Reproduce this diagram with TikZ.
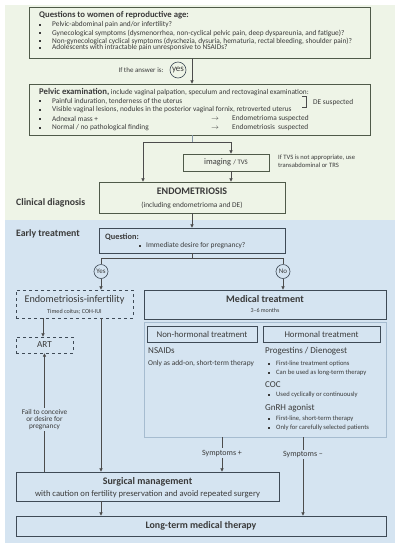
\documentclass[tikz,border=0pt]{standalone}
\usepackage{fontspec}
\setmainfont{Carlito}
\usetikzlibrary{arrows.meta}

\definecolor{bggreen}{HTML}{EEF4E7}
\definecolor{bgblue}{HTML}{D5E4F1}
\definecolor{lineg}{HTML}{4F5A49}
\definecolor{lineb}{HTML}{3E4A56}
\definecolor{txtc}{HTML}{3A3A3A}
\definecolor{pale}{HTML}{A6BCD0}
\newcommand{\fsz}[1]{\fontsize{#1}{#1}\selectfont}

\tikzset{
  gbox/.style 2 args={draw=lineg, line width=0.8pt, inner sep=0pt, minimum width=#1, minimum height=#2},
  bbox/.style 2 args={draw=lineb, line width=0.8pt, inner sep=0pt, minimum width=#1, minimum height=#2},
  dbox/.style 2 args={bbox={#1}{#2}, dashed},
  txt/.style={inner sep=0pt, anchor=west, text=txtc, font=\fsz{7.35}},
  ctr/.style={inner sep=0pt, text=txtc, align=center},
  ans/.style={draw=lineb, circle, line width=0.6pt, inner sep=0.5pt, minimum size=14, text=txtc},
  conn/.style={draw=black!70, line width=0.6pt},
  arr/.style={conn, -{Triangle[length=3.2pt,width=3.2pt]}},
  lbl/.style={ctr, fill=bgblue, inner ysep=1.5pt, font=\fsz{7.3}},
}

\begin{document}
\begin{tikzpicture}[x=1pt,y=-1pt]
  \useasboundingbox (0,0) rectangle (402,550);
  \fill[bggreen] (5,5) rectangle (395,220);
  \fill[bgblue] (5,220) rectangle (395,543);

  % screening questions
  \node[gbox={341}{51}] (q) at (199.5,32.5) {};
  \node[txt, font=\bfseries\fsz{8.7}] (qt) at (39,15) {Questions to women of reproductive age:};
  \fill[txtc] (39,24) rectangle +(2,2); \node[txt] (q1) at (52,25) {Pelvic-abdominal pain and/or infertility?};
  \fill[txtc] (39,32) rectangle +(2,2); \node[txt] (q2) at (52,33) {Gynecological symptoms (dysmenorrhea, non-cyclical pelvic pain, deep dyspareunia, and fatigue)?};
  \fill[txtc] (39,40) rectangle +(2,2); \node[txt] (q3) at (52,41) {Non-gynecological cyclical symptoms (dyschezia, dysuria, hematuria, rectal bleeding, shoulder pain)?};
  \fill[txtc] (39,47) rectangle +(2,2); \node[txt] (q4) at (52,48) {Adolescents with intractable pain unresponsive to NSAIDs?};

  \node[ctr, font=\fsz{7}] (ifa) at (141,70) {If the answer is:};
  \node[ans, font=\fsz{9}, minimum size=16] (yes) at (178,70) {yes};

  % pelvic examination
  \node[gbox={341}{51}] (pe) at (199.5,109.5) {};
  \node[txt] (pet) at (39,92) {{\bfseries\fsz{8.7}Pelvic examination,} include vaginal palpation, speculum and rectovaginal examination:};
  \fill[txtc] (39,100) rectangle +(2,2); \node[txt] (p1) at (52,101) {Painful induration, tenderness of the uterus};
  \fill[txtc] (39,109) rectangle +(2,2); \node[txt] (p2) at (52,110) {Visible vaginal lesions, nodules in the posterior vaginal fornix, retroverted uterus};
  \fill[txtc] (39,118) rectangle +(2,2); \node[txt] (p3) at (52,119) {Adnexal mass +};
  \fill[txtc] (39,127) rectangle +(2,2); \node[txt] (p4) at (52,128) {Normal / no pathological finding};
  \node[txt] (a3) at (211,119) {$\rightarrow$}; \node[txt] (e3) at (232,119) {Endometrioma suspected};
  \node[txt] (a4) at (211,128) {$\rightarrow$}; \node[txt] (e4) at (232,128) {Endometriosis\ \ suspected};
  \draw[black!70, line width=0.5pt] (302,96) -- (306,96) -- (306,107) -- (302,107);
  \node[txt] (de) at (313,103) {DE suspected};

  % imaging
  \node[gbox={86}{17}] (img) at (226,162.5) {};
  \node[ctr] (imgt) at (img) {{\fsz{8.4}imaging} {\fsz{6.8}/ TVS}};
  \node[txt, font=\fsz{6.6}, align=left] (tvs) at (278,161) {If TVS is not appropriate, use\\[1.4pt]transabdominal or TRS};

  % diagnosis
  \node[gbox={186}{31}] (endo) at (192,197.5) {};
  \node[ctr, font=\bfseries\fsz{10}] (endot) at (192,191) {ENDOMETRIOSIS};
  \node[ctr, font=\fsz{7.4}] (endos) at (192,205) {(including endometrioma and DE)};
  \node[txt, font=\bfseries\fsz{9.8}] (cd) at (16,203) {Clinical diagnosis};

  % early treatment
  \node[txt, font=\bfseries\fsz{9.8}] (et) at (16,234) {Early treatment};
  \node[bbox={186}{25}] (qq) at (192,240.5) {};
  \node[txt, font=\bfseries\fsz{8.3}] (qqt) at (105,237) {Question:};
  \fill[txtc] (139,245) rectangle +(2,2); \node[txt, font=\fsz{7.4}] (qq1) at (146,246) {Immediate desire for pregnancy?};

  \node[ans, font=\fsz{7}] (y) at (101,271.5) {Yes};
  \node[ans, font=\fsz{7}] (n) at (283,271.5) {No};

  % infertility branch
  \node[dbox={117}{28}] (inf) at (74.5,304) {};
  \node[ctr, font=\fsz{10.2}] (inft) at (74.5,299.5) {Endometriosis-infertility};
  \node[ctr, font=\fsz{6.1}] (infs) at (74.5,311.5) {Timed coitus; COH-IUI};
  \node[dbox={57}{16}] (art) at (44.5,345) {};
  \node[ctr, font=\fsz{9.2}] (artt) at (art) {ART};

  % medical treatment
  \node[bbox={242}{29}] (med) at (265,304.5) {};
  \node[ctr, font=\bfseries\fsz{10}] (medt) at (265,299.5) {Medical treatment};
  \node[ctr, font=\fsz{6}] (meds) at (265,310.5) {3--6 months};
  \node[draw=pale, line width=0.6pt, inner sep=0pt, minimum width=242, minimum height=115] (cont) at (265,379.5) {};
  \node[bbox={110}{16}] (nh) at (202,334) {};
  \node[ctr, font=\fsz{8.8}] (nht) at (nh) {Non-hormonal treatment};
  \node[bbox={117}{16}] (hm) at (321.5,334) {};
  \node[ctr, font=\fsz{8.8}] (hmt) at (hm) {Hormonal treatment};

  \node[txt, font=\fsz{9}] (ns) at (148,351) {NSAIDs};
  \node[txt, font=\fsz{7.4}] (nss) at (148,364) {Only as add-on, short-term therapy};

  \node[txt, font=\fsz{9}] (pg) at (265,351) {Progestins / Dienogest};
  \fill[txtc] (268,363) rectangle +(1.8,1.8); \node[txt, font=\fsz{6.6}] (pg1) at (276,364) {First-line treatment options};
  \fill[txtc] (268,372) rectangle +(1.8,1.8); \node[txt, font=\fsz{6.6}] (pg2) at (276,373) {Can be used as long-term therapy};
  \node[txt, font=\fsz{9}] (coc) at (265,385) {COC};
  \fill[txtc] (268,394) rectangle +(1.8,1.8); \node[txt, font=\fsz{6.6}] (coc1) at (276,395) {Used cyclically or continuously};
  \node[txt, font=\fsz{9}] (gn) at (265,408) {GnRH agonist};
  \fill[txtc] (268,418) rectangle +(1.8,1.8); \node[txt, font=\fsz{6.6}] (gn1) at (276,419) {First-line, short-term therapy};
  \fill[txtc] (268,427) rectangle +(1.8,1.8); \node[txt, font=\fsz{6.6}] (gn2) at (276,428) {Only for carefully selected patients};

  % surgery and long-term therapy
  \node[bbox={263}{29}] (surg) at (147.5,486.5) {};
  \node[ctr, font=\bfseries\fsz{10}] (surgt) at (147.5,481.5) {Surgical management};
  \node[ctr, font=\fsz{8.6}] (surgs) at (147.5,494) {with caution on fertility preservation and avoid repeated surgery};
  \node[bbox={370}{20}] (lt) at (201,526) {};
  \node[ctr, font=\bfseries\fsz{9.9}] (ltt) at (lt) {Long-term medical therapy};

  % connectors
  \coordinate (jm) at (192,142);
  \coordinate (jl) at (143,142);
  \coordinate (jr) at (231,142);
  \coordinate (sq) at (192,258);
  \draw[arr] (q.south -| endo.north) -- (pe.north -| endo.north);
  \draw[conn, draw=pale!80!black] (pe.south -| jm) -- (jm);
  \draw[conn] (jl) -- (jr);
  \draw[arr] (jl) -- (jl |- endo.north);
  \draw[arr] (jr) -- (jr |- img.north);
  \draw[arr] (img.south -| jr) -- (endo.north -| jr);
  \draw[arr] (endo.south) -- (qq.north -| endo.south);
  \draw[conn] (qq.south -| sq) -- (sq);
  \draw[conn] (y.north) -- (y.north |- sq) -- (n.north |- sq) -- (n.north);
  \draw[arr] (y.south) -- (y.south |- inf.north);
  \draw[arr] (n.south) -- (n.south |- med.north);
  \draw[arr] (inf.south -| 43,0) -- (art.north -| 43,0);
  \draw[arr] (inf.south -| y) -- (surg.north -| y);
  \draw[arr] (surg.north -| 44.5,0) -- node[lbl, pos=0.44] (fail) {Fail to conceive\\[-0.6pt]or desire for\\[-0.6pt]pregnancy} (art.south);
  \draw[arr] (cont.south -| 222,0) -- node[lbl, pos=0.46, font=\fsz{8}] (sp) {Symptoms +} (surg.north -| 222,0);
  \draw[arr] (cont.south -| 303,0) -- node[lbl, pos=0.22, font=\fsz{8}] (sm) {Symptoms --} (lt.north -| 303,0);
  \draw[arr] (surg.south -| y) -- (lt.north -| y);
\end{tikzpicture}
\end{document}
